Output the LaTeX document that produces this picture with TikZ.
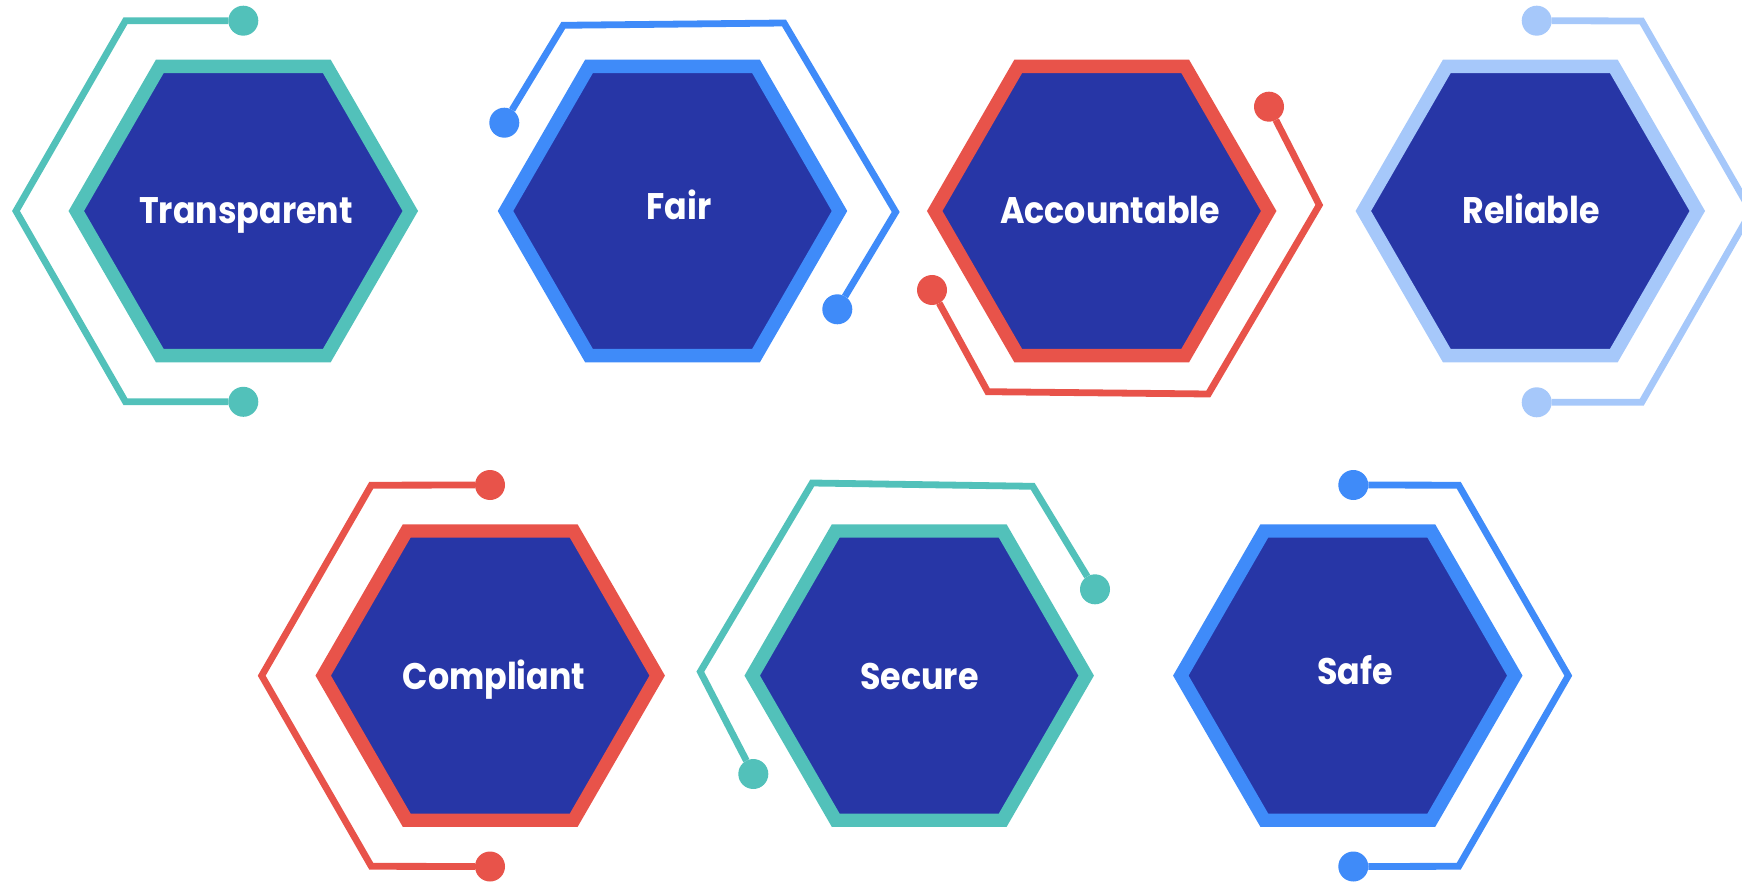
\documentclass[tikz,border=0pt]{standalone}
\usepackage{fontspec}
\setmainfont{Poppins}
\usetikzlibrary{shapes.geometric}
\definecolor{cteal}{RGB}{82,193,186}
\definecolor{cblue}{RGB}{63,139,249}
\definecolor{cred}{RGB}{232,83,74}
\definecolor{clight}{RGB}{166,200,250}
\definecolor{cdark}{RGB}{39,54,166}
\tikzset{
  hexbox/.style={regular polygon, regular polygon sides=6, minimum size=334pt,
    inner sep=0pt, outer sep=0pt, fill=cdark, line width=13.4pt, line join=miter},
  lbl/.style={font=\bfseries\fontsize{37}{40}\selectfont, text=white, anchor=base, inner sep=0pt, xscale=0.9},
  wire/.style={line width=6.8pt, line join=miter},
  knob/.style={circle, minimum size=30pt, inner sep=0pt, outer sep=0pt},
}
\begin{document}
\begin{tikzpicture}[x=1pt,y=-1pt]
\useasboundingbox (0,0) rectangle (1742,882);
\clip (0,0) rectangle (1742,882);
% Transparent
\node[hexbox, draw=cteal] (hT) at (243.3,211) {};
\node[lbl] (tT) at (246,224) {Transparent};
\coordinate (T1) at (125.5,20.7);
\coordinate (T2) at (16,211);
\coordinate (T3) at (125.5,401.8);
\node[knob, fill=cteal] (kT1) at (243.3,20.7) {};
\node[knob, fill=cteal] (kT2) at (243.3,401.8) {};
\draw[wire, cteal] (kT1) -- (T1) -- (T2) -- (T3) -- (kT2);
% Fair
\node[hexbox, draw=cblue] (hF) at (672.5,211) {};
\node[lbl] (tF) at (679,220) {Fair};
\coordinate (F1) at (563.3,25.3);
\coordinate (F2) at (784,23);
\coordinate (F3) at (895.7,212);
\node[knob, fill=cblue] (kF1) at (504.3,122.7) {};
\node[knob, fill=cblue] (kF2) at (837.3,309.3) {};
\draw[wire, cblue] (kF1) -- (F1) -- (F2) -- (F3) -- (kF2);
% Accountable
\node[hexbox, draw=cred] (hA) at (1101.7,211) {};
\node[lbl] (tA) at (1110,224) {Accountable};
\coordinate (A1) at (1319.3,205);
\coordinate (A2) at (1208.3,394);
\coordinate (A3) at (987.7,391.7);
\node[knob, fill=cred] (kA1) at (1269,106.7) {};
\node[knob, fill=cred] (kA2) at (932,290) {};
\draw[wire, cred] (kA1) -- (A1) -- (A2) -- (A3) -- (kA2);
% Reliable
\node[hexbox, draw=clight] (hR) at (1530.3,211) {};
\node[lbl] (tR) at (1531,224) {Reliable};
\coordinate (R1) at (1641.7,21);
\coordinate (R2) at (1751.2,211.5);
\coordinate (R3) at (1641.7,402.3);
\node[knob, fill=clight] (kR1) at (1536.7,20.7) {};
\node[knob, fill=clight] (kR2) at (1536.7,402.3) {};
\draw[wire, clight] (kR1) -- (R1) -- (R2) -- (R3) -- (kR2);
% Compliant
\node[hexbox, draw=cred] (hC) at (490.2,675.6) {};
\node[lbl] (tC) at (494,689.3) {Compliant};
\coordinate (C1) at (371.3,485.2);
\coordinate (C2) at (261.7,675.7);
\coordinate (C3) at (371.3,866.3);
\node[knob, fill=cred] (kC1) at (490,485) {};
\node[knob, fill=cred] (kC2) at (490,866.5) {};
\draw[wire, cred] (kC1) -- (C1) -- (C2) -- (C3) -- (kC2);
% Secure
\node[hexbox, draw=cteal] (hS) at (919.2,675.6) {};
\node[lbl] (tS) at (919.5,689.3) {Secure};
\coordinate (S1) at (1032.7,486.3);
\coordinate (S2) at (812.2,483);
\coordinate (S3) at (700.3,671.7);
\node[knob, fill=cteal] (kS1) at (1095,589.3) {};
\node[knob, fill=cteal] (kS2) at (753.3,774) {};
\draw[wire, cteal] (kS1) -- (S1) -- (S2) -- (S3) -- (kS2);
% Safe
\node[hexbox, draw=cblue] (hY) at (1347.8,675.6) {};
\node[lbl] (tY) at (1355,684.3) {Safe};
\coordinate (Y1) at (1458.7,485.2);
\coordinate (Y2) at (1568.3,675.7);
\coordinate (Y3) at (1458.7,866.3);
\node[knob, fill=cblue] (kY1) at (1353.3,485) {};
\node[knob, fill=cblue] (kY2) at (1353.3,866.5) {};
\draw[wire, cblue] (kY1) -- (Y1) -- (Y2) -- (Y3) -- (kY2);
\end{tikzpicture}
\end{document}
